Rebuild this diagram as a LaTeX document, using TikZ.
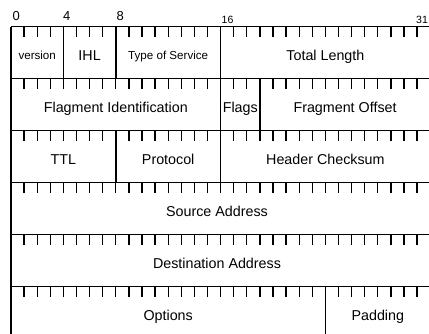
\documentclass[tikz,border=0pt]{standalone}
\usepackage{fontspec}
\setmainfont{Liberation Sans}
\begin{document}
\begin{tikzpicture}[x=1pt,y=-1pt,line width=1.4pt,
  big/.style={font=\fontsize{14.3}{17}\selectfont,anchor=base,inner sep=0pt},
  small/.style={font=\fontsize{11.6}{13}\selectfont,anchor=base,inner sep=0pt},
  hdr/.style={font=\fontsize{13}{15}\selectfont,anchor=base west,inner sep=0pt},
  hdrs/.style={font=\fontsize{10.5}{12}\selectfont,anchor=base west,inner sep=0pt},
  tick/.style={line width=1.3pt}]
\useasboundingbox (0,0) rectangle (429,334);
\def\bw{13.1}
\def\xo{11}
\def\rh{52}
\def\yt{26.7}
% rows: horizontal lines and ticks
\foreach \r in {0,...,5}{
  \pgfmathsetmacro{\yy}{\yt+\rh*\r}
  \draw (\xo,\yy) -- (429,\yy);
  \foreach \b in {1,...,31}{
    \draw[tick] ({\xo+\b*\bw},\yy) -- ++(0,10.5);
  }
}
% left border
\draw (\xo,\yt) -- (\xo,334);
% field boundaries: row, bit
\foreach \r/\b in {0/4,0/8,0/16,1/16,1/19,2/8,2/16,5/24}{
  \pgfmathsetmacro{\yy}{\yt+\rh*\r}
  \draw ({\xo+\b*\bw},\yy) -- ++(0,\rh);
}
% header numbers
\node[hdr] (h0) at (12.0,20.7) {0};
\node[hdr] (h4) at (62.5,20.7) {4};
\node[hdr] (h8) at (116.0,20.7) {8};
\node[hdrs] (h16) at (221.0,23.3) {16};
\node[hdrs] (h31) at (415.5,23.3) {31};
% labels
\node[small] (ver) at ({\xo+2*\bw},{\yt+33}) {version};
\node[big]   (ihl) at ({\xo+6*\bw},{\yt+34}) {IHL};
\node[small] (tos) at ({\xo+12*\bw},{\yt+33}) {Type of Service};
\node[big]   (tl)  at ({\xo+24*\bw},{\yt+34}) {Total Length};
\node[big]   (fid) at ({\xo+8*\bw},{\yt+\rh+34}) {Flagment Identification};
\node[big]   (flg) at ({\xo+17.5*\bw},{\yt+\rh+34}) {Flags};
\node[big]   (fo)  at ({\xo+25.5*\bw},{\yt+\rh+34}) {Fragment Offset};
\node[big]   (ttl) at ({\xo+4*\bw},{\yt+2*\rh+34}) {TTL};
\node[big]   (pro) at ({\xo+12*\bw},{\yt+2*\rh+34}) {Protocol};
\node[big]   (hc)  at ({\xo+24*\bw},{\yt+2*\rh+34}) {Header Checksum};
\node[big]   (sa)  at (217,{\yt+3*\rh+34}) {Source Address};
\node[big]   (da)  at (217,{\yt+4*\rh+34}) {Destination Address};
\node[big]   (opt) at ({\xo+12*\bw},{\yt+5*\rh+34}) {Options};
\node[big]   (pad) at ({\xo+28*\bw},{\yt+5*\rh+34}) {Padding};
\end{tikzpicture}
\end{document}
